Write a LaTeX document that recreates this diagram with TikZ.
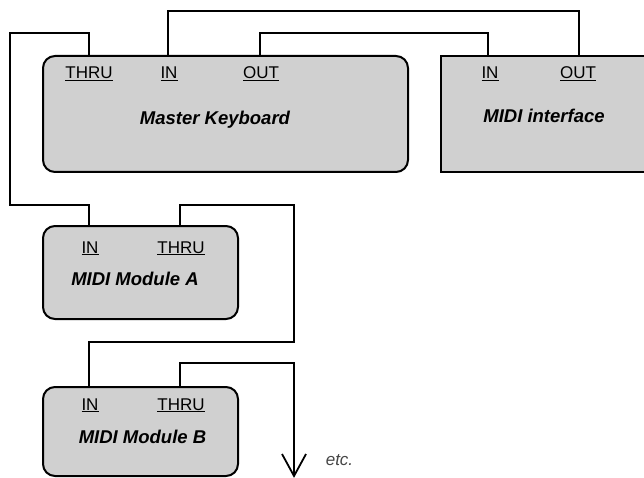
\documentclass[tikz,border=0pt]{standalone}
\usepackage{fontspec}
\setmainfont{Liberation Sans}
\definecolor{boxgray}{RGB}{208,208,208}
\definecolor{etcgray}{RGB}{70,70,70}
\tikzset{
  box/.style={draw=black, line width=2pt, fill=boxgray, rounded corners=12pt, inner sep=0pt},
  sqbox/.style={draw=black, line width=2pt, fill=boxgray, inner sep=0pt},
  wire/.style={draw=black, line width=1.3pt, line join=miter},
  port/.style={inner sep=0pt, anchor=base, font=\fontsize{17}{17}\selectfont},
  title/.style={inner sep=0pt, anchor=base, font=\fontsize{18.5}{18.5}\selectfont\bfseries\itshape},
  etctext/.style={inner sep=0pt, anchor=base, text=etcgray, font=\fontsize{17}{17}\selectfont\itshape},
}
\begin{document}
\begin{tikzpicture}[x=1pt, y=-1pt]
\useasboundingbox (0,0) rectangle (644,478);
\clip (0,0) rectangle (644,478);
\fill[white] (0,0) rectangle (644,478);

% boxes
\node[box, minimum width=365pt, minimum height=116pt] (mk) at (225.5,114) {};
\node[sqbox, minimum width=210pt, minimum height=116pt] (mi) at (546,114) {};
\node[box, minimum width=195pt, minimum height=93pt] (ma) at (140.5,272.5) {};
\node[box, minimum width=195pt, minimum height=89pt] (mb) at (140.5,431.5) {};

% titles
\node[title] (mkt) at (215,125) {Master Keyboard};
\node[title] (mit) at (544,123) {MIDI interface};
\node[title] (mat) at (135,285) {MIDI Module A};
\node[title] (mbt) at (142.5,443) {MIDI Module B};

% port labels
\node[port] (mkthrul) at (89,79) {\underline{THRU}};
\node[port] (mkinl) at (169,79) {\underline{IN}};
\node[port] (mkoutl) at (261,79) {\underline{OUT}};
\node[port] (miinl) at (490,79) {\underline{IN}};
\node[port] (mioutl) at (578,79) {\underline{OUT}};
\node[port] (mainl) at (90,253) {\underline{IN}};
\node[port] (mathrul) at (181,253) {\underline{THRU}};
\node[port] (mbinl) at (90,410) {\underline{IN}};
\node[port] (mbthrul) at (181,410) {\underline{THRU}};

% port connection points
\coordinate (mkthru) at (89,56);
\coordinate (mkin) at (168,56);
\coordinate (mkout) at (260,56);
\coordinate (miin) at (488,56);
\coordinate (miout) at (579,56);
\coordinate (main) at (89,226);
\coordinate (mathru) at (180,226);
\coordinate (mbin) at (89,387);
\coordinate (mbthru) at (180,387);
\coordinate (tip) at (294,476);

% connectors
\draw[wire] (mkthru) -- (89,33) -- (10,33) -- (10,205) -- (89,205) -- (main);
\draw[wire] (mkin) -- (168,11) -- (579,11) -- (miout);
\draw[wire] (mkout) -- (260,33) -- (488,33) -- (miin);
\draw[wire] (mathru) -- (180,205) -- (294,205) -- (294,342) -- (89,342) -- (mbin);
\draw[wire] (mbthru) -- (180,363) -- (294,363) -- (tip);
\draw[wire, line width=1.8pt, line join=miter] (282,454) -- (tip) -- (306,454);

\node[etctext] (etc) at (339.5,465) {etc.};
\end{tikzpicture}
\end{document}
